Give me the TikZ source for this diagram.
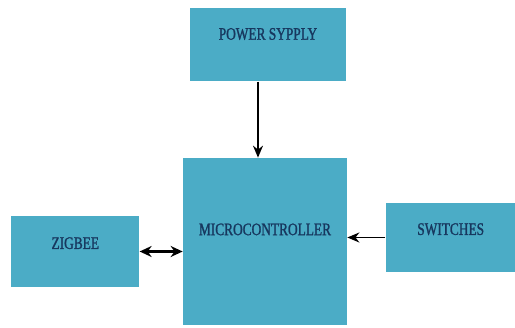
\documentclass[tikz,border=0pt]{standalone}
\usepackage{fontspec}
\setmainfont[FakeStretch=0.76, FakeBold=1.2]{Liberation Serif}
\usepackage{xcolor}
\usetikzlibrary{positioning,arrows.meta}

\definecolor{boxfill}{HTML}{4BACC6}
\definecolor{boxtext}{HTML}{17375E}

\begin{document}
\begin{tikzpicture}[
  font=\fontsize{10}{11}\selectfont,
  block/.style={fill=boxfill, text=boxtext, align=center, inner sep=0pt},
  arrow/.style={-{Stealth[length=2.4mm, width=2mm]}, line width=0.8pt},
  biarrow/.style={{Stealth[length=2.4mm, width=2.2mm]}-{Stealth[length=2.4mm, width=2.2mm]}, line width=1.2pt}
]
\useasboundingbox (0,0) rectangle (10.3,-6.56);

\node[block, minimum width=3.28cm, minimum height=3.34cm] (mcu) at (5.3,-4.83) {MICROCONTROLLER\\[0.1cm]};
\node[block, minimum width=3.12cm, minimum height=1.46cm, above=1.52cm of mcu, xshift=0.06cm] (pwr) {POWER SYPPLY\\[0.05cm]};
\node[block, minimum width=2.56cm, minimum height=1.42cm, left=0.86cm of mcu, yshift=-0.2cm] (zig) {ZIGBEE\\[-0.05cm]};
\node[block, minimum width=2.6cm, minimum height=1.38cm, right=0.76cm of mcu, yshift=0.08cm] (sw) {SWITCHES\\[-0.05cm]};

\draw[arrow] ([xshift=-0.2cm]pwr.south) -- ([xshift=-0.2cm]pwr.south |- mcu.north);
\draw[biarrow] (zig.east) -- (zig.east -| mcu.west);
\draw[arrow, line width=1.1pt] (sw.west) -- (sw.west -| mcu.east);
\end{tikzpicture}
\end{document}
